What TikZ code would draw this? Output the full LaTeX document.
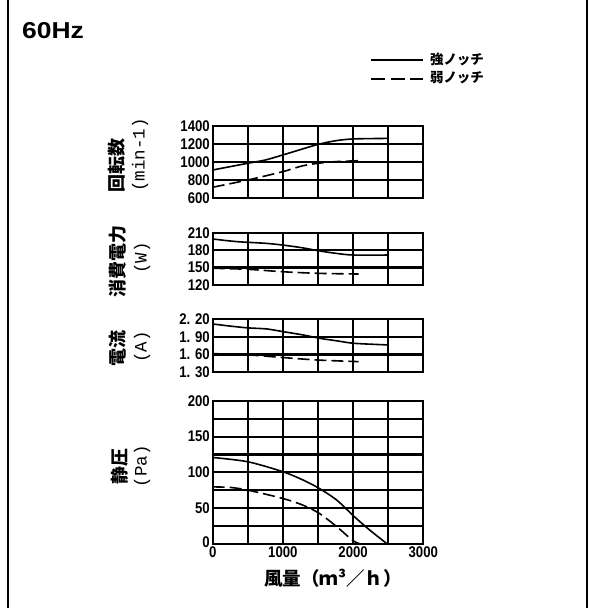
\documentclass[tikz,border=0pt]{standalone}
\usepackage{fontspec}
\setmainfont{Liberation Sans}
\newfontfamily\jp{Noto Sans CJK JP}
\newfontfamily\tickf[FakeStretch=0.85]{Liberation Sans Bold}
\newfontfamily\titlef[FakeStretch=1.15]{Liberation Sans Bold}
\newfontfamily\jmono{Liberation Mono}
\tikzset{
  gridline/.style={line width=2.2pt, line cap=rect},
  curve/.style={line width=1.6pt, line join=round},
  weak/.style={curve, dash pattern=on 12pt off 5pt},
  ticklab/.style={font={\tickf\fontsize{15.5}{15.5}\selectfont}, inner sep=0pt},
  ylab/.style={font={\jp\bfseries\fontsize{18}{18}\selectfont}, inner sep=0pt, rotate=90},
  unitlab/.style={font={\jmono\fontsize{17.5}{17.5}\selectfont}, inner sep=0pt, rotate=90},
  legtext/.style={font={\jp\bfseries\fontsize{13.5}{13.5}\selectfont}, inner sep=0pt, anchor=west},
  legline/.style={line width=2pt},
  border/.style={line width=2pt}
}
\begin{document}
\begin{tikzpicture}[x=1pt,y={(0pt,-1pt)}]
\useasboundingbox (0,0) rectangle (590,608);
% side frame lines
\draw[border] (8,0) -- (8,608);
\draw[border] (587,0) -- (587,608);
% title
\node[anchor=west, inner sep=0pt, font={\titlef\fontsize{23}{23}\selectfont}] (title) at (22,31) {60Hz};
% legend
\coordinate (ls1) at (371,60); \coordinate (le1) at (423,60);
\coordinate (ls2) at (371,79); \coordinate (le2) at (423,79);
\draw[legline] (ls1) -- (le1);
\draw[legline, dash pattern=on 14pt off 5.5pt] (ls2) -- (le2);
\node[legtext] (leg1) at (430,59) {強ノッチ};
\node[legtext] (leg2) at (430,78) {弱ノッチ};

% ---------- chart 1 : rpm ----------
\node[ylab] (y1a) at (117,165) {回転数};
\node[unitlab] (y1b) at (140,155) {(min-1)};
\begin{scope}[shift={(212.7,198.3)}, x=70.2pt, y={(0pt,18.15pt)}]
  \foreach \i in {1,...,5} \draw[gridline] (\i*0.5,0) -- (\i*0.5,4);
  \foreach \j in {1,...,3} \draw[gridline] (0,\j) -- (3,\j);
  \draw[gridline] (0,0) rectangle (3,4);
  \foreach \j/\t in {0/600,1/800,2/1000,3/1200,4/1400}
    \node[ticklab, anchor=east] (t1\j) at ([xshift=-2.7pt]0,\j) {\t};
  \draw[curve] plot[smooth] coordinates {(0,1.56) (0.5,1.93) (0.75,2.11) (1.0,2.39) (1.23,2.66) (1.5,2.97) (1.75,3.17) (2.0,3.27) (2.5,3.30)};
  \draw[weak] plot[smooth] coordinates {(0,0.61) (0.5,1.01) (1.0,1.47) (1.27,1.78) (1.5,1.93) (1.75,2.02) (2.08,2.07)};
\end{scope}

% ---------- chart 2 : power ----------
\node[ylab] (y2a) at (118,261) {消費電力};
\node[unitlab] (y2b) at (142,258) {(W)};
\begin{scope}[shift={(212.7,285)}, x=70.2pt, y={(0pt,17.43pt)}]
  \foreach \i in {1,...,5} \draw[gridline] (\i*0.5,0) -- (\i*0.5,3);
  \foreach \j in {1,2} \draw[gridline] (0,\j) -- (3,\j);
  \draw[gridline] (0,0) rectangle (3,3);
  \foreach \j/\t in {0/120,1/150,2/180,3/210}
    \node[ticklab, anchor=east] (t2\j) at ([xshift=-2.7pt]0,\j) {\t};
  \draw[curve] plot[smooth] coordinates {(0,2.64) (0.34,2.49) (0.76,2.39) (1.0,2.29) (1.27,2.14) (1.5,1.97) (1.75,1.82) (2.0,1.72) (2.5,1.72)};
  \draw[weak] plot[smooth] coordinates {(0,0.96) (0.5,0.90) (1.0,0.76) (1.5,0.67) (2.08,0.63)};
\end{scope}

% ---------- chart 3 : current ----------
\node[ylab] (y3a) at (118,348) {電流};
\node[unitlab] (y3b) at (142,347) {(A)};
\begin{scope}[shift={(212.7,372.3)}, x=70.2pt, y={(0pt,17.77pt)}]
  \foreach \i in {1,...,5} \draw[gridline] (\i*0.5,0) -- (\i*0.5,3);
  \foreach \j in {1,2} \draw[gridline] (0,\j) -- (3,\j);
  \draw[gridline] (0,0) rectangle (3,3);
  \foreach \j/\t in {0/{1. 30},1/{1. 60},2/{1. 90},3/{2. 20}}
    \node[ticklab, anchor=east] (t3\j) at ([xshift=-2.7pt]0,\j) {\t};
  \draw[curve] plot[smooth] coordinates {(0,2.72) (0.25,2.6) (0.5,2.5) (0.77,2.44) (1.0,2.29) (1.29,2.10) (1.53,1.91) (1.77,1.77) (2.02,1.63) (2.5,1.54)};
  \draw[weak] plot[smooth] coordinates {(0,1.05) (0.5,0.98) (1.0,0.83) (1.5,0.69) (2.08,0.60)};
\end{scope}

% ---------- chart 4 : static pressure ----------
\node[ylab] (y4a) at (120,466) {静圧};
\node[unitlab] (y4b) at (142,466) {(Pa)};
\begin{scope}[shift={(212.7,543.6)}, x=70.2pt, y={(0pt,17.83pt)}]
  \foreach \i in {1,...,5} \draw[gridline] (\i*0.5,0) -- (\i*0.5,8);
  \foreach \j in {1,...,7} \draw[gridline] (0,\j) -- (3,\j);
  \draw[gridline] (0,0) rectangle (3,8);
  \foreach \j/\t in {2/50,4/100,6/150,8/200}
    \node[ticklab, anchor=east] (t4\j) at ([xshift=-2.7pt]0,\j) {\t};
  \node[ticklab, anchor=east] (t40) at ([xshift=-2.7pt,yshift=1pt]0,0) {0};
  \foreach \i/\t in {0/0,1/1000,2/2000,3/3000}
    \node[ticklab] (x4\i) at ([yshift=-9pt]\i,0) {\t};
  \draw[curve] plot[smooth] coordinates {(0,4.83) (0.5,4.59) (1.0,4.03) (1.29,3.56) (1.52,3.09) (1.77,2.43) (2.02,1.50) (2.24,0.75) (2.48,0)};
  \draw[weak] plot[smooth] coordinates {(0,3.18) (0.25,3.15) (0.5,3.0) (1.0,2.53) (1.29,2.15) (1.52,1.69) (1.77,0.94) (1.99,0.19) (2.09,0)};
\end{scope}

% x axis title
\node[inner sep=0pt, font={\jp\bfseries\fontsize{18.5}{18.5}\selectfont}] (xtitle) at (333,578) {風量（ｍ³／ｈ）};
\end{tikzpicture}
\end{document}
